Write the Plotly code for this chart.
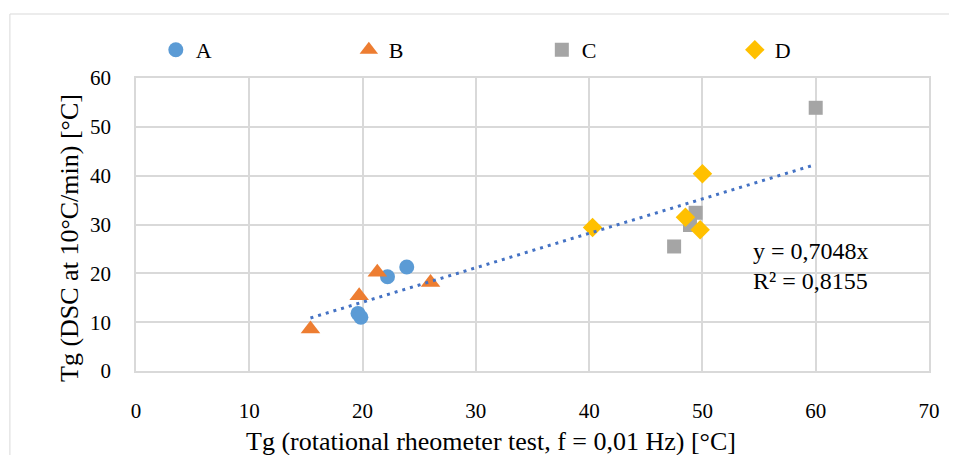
import plotly.graph_objects as go

# ---- data ----
a_x = [22.2, 23.9, 19.6, 19.85]
a_y = [19.3, 21.3, 11.8, 11.0]
b_x = [15.4, 19.7, 21.3, 26.0]
b_y = [8.6, 15.4, 20.2, 18.1]
c_x = [60.0, 47.5, 49.4, 48.9]
c_y = [53.9, 25.5, 32.4, 29.9]
d_x = [40.3, 50.0, 48.5, 49.8]
d_y = [29.4, 40.4, 31.5, 28.9]
series_names = ["A", "B", "C", "D"]
trend_slope = 0.7048
r_squared = "0,8155"
x_ticks = [0, 10, 20, 30, 40, 50, 60, 70]
y_ticks = [0, 10, 20, 30, 40, 50, 60]
x_title = "Tg (rotational rheometer test, f = 0,01 Hz) [°C]"
y_title = "Tg (DSC at 10°C/min) [°C]"

FONT = "Liberation Serif"
colors = ["#5B9BD5", "#ED7D31", "#A5A5A5", "#FFC000"]
symbols = ["circle", "triangle-up", "square", "diamond"]
sizes = [15, 17, 14, 15]

fig = go.Figure()
for name, xs, ys, col, sym, sz in zip(series_names, [a_x, b_x, c_x, d_x],
                                      [a_y, b_y, c_y, d_y], colors, symbols, sizes):
    fig.add_trace(go.Scatter(x=xs, y=ys, mode="markers", name=name,
                             marker=dict(color=col, symbol=sym, size=sz, line=dict(width=0))))

all_x = a_x + b_x + c_x + d_x
tx = [min(all_x), max(all_x)]
ty = [trend_slope * v for v in tx]
fig.add_trace(go.Scatter(x=tx, y=ty, mode="lines", showlegend=False,
                         line=dict(color="#4472C4", width=3, dash="3px,5px")))

fig.add_annotation(x=54.3, y=24.6, xref="x", yref="y",
                   text="y = " + str(trend_slope).replace(".", ",") + "x",
                   showarrow=False, xanchor="left", yanchor="middle",
                   font=dict(family=FONT, size=24, color="#000000"))
fig.add_annotation(x=54.3, y=18.4, xref="x", yref="y", text="R² = " + r_squared,
                   showarrow=False, xanchor="left", yanchor="middle",
                   font=dict(family=FONT, size=24, color="#000000"))

# axis titles
fig.add_annotation(x=0.4477, y=-0.239, xref="paper", yref="paper", text=x_title,
                   showarrow=False, xanchor="center", yanchor="middle",
                   font=dict(family=FONT, size=26, color="#000000"))
fig.add_annotation(x=-0.0832, y=0.454, xref="paper", yref="paper", text=y_title,
                   showarrow=False, xanchor="center", yanchor="middle", textangle=-90,
                   font=dict(family=FONT, size=26, color="#000000"))

# chart outer border
fig.add_shape(type="rect", xref="paper", yref="paper", x0=-0.159, x1=1.05, y0=-0.32, y1=1.2184,
              line=dict(color="#D9D9D9", width=1), fillcolor="rgba(0,0,0,0)", layer="below")

fig.update_layout(
    width=949, height=447,
    margin=dict(l=128, r=28, t=70, b=84),
    paper_bgcolor="white", plot_bgcolor="white",
    font=dict(family=FONT, size=21, color="#000000"),
    legend=dict(orientation="h", x=0.025, y=1.0956, xanchor="left", yanchor="middle",
                entrywidth=148, entrywidthmode="pixels",
                font=dict(family=FONT, size=22, color="#000000"), bgcolor="rgba(0,0,0,0)"),
    xaxis=dict(range=[0, 70], tickvals=x_ticks, ticktext=[str(v) for v in x_ticks],
               showgrid=True, gridcolor="#D9D9D9", gridwidth=1.5, zeroline=False,
               showline=True, linecolor="#D9D9D9", linewidth=1.5, mirror=True,
               ticks="", ticklabelstandoff=20, automargin=False,
               tickfont=dict(family=FONT, size=21, color="#000000")),
    yaxis=dict(range=[0, 60], tickvals=y_ticks, ticktext=[str(v) for v in y_ticks],
               showgrid=True, gridcolor="#D9D9D9", gridwidth=1.5, zeroline=False,
               showline=True, linecolor="#D9D9D9", linewidth=1.5, mirror=True,
               ticks="", ticklabelstandoff=19, automargin=False,
               tickfont=dict(family=FONT, size=21, color="#000000")),
)

fig.write_html("out.html")
